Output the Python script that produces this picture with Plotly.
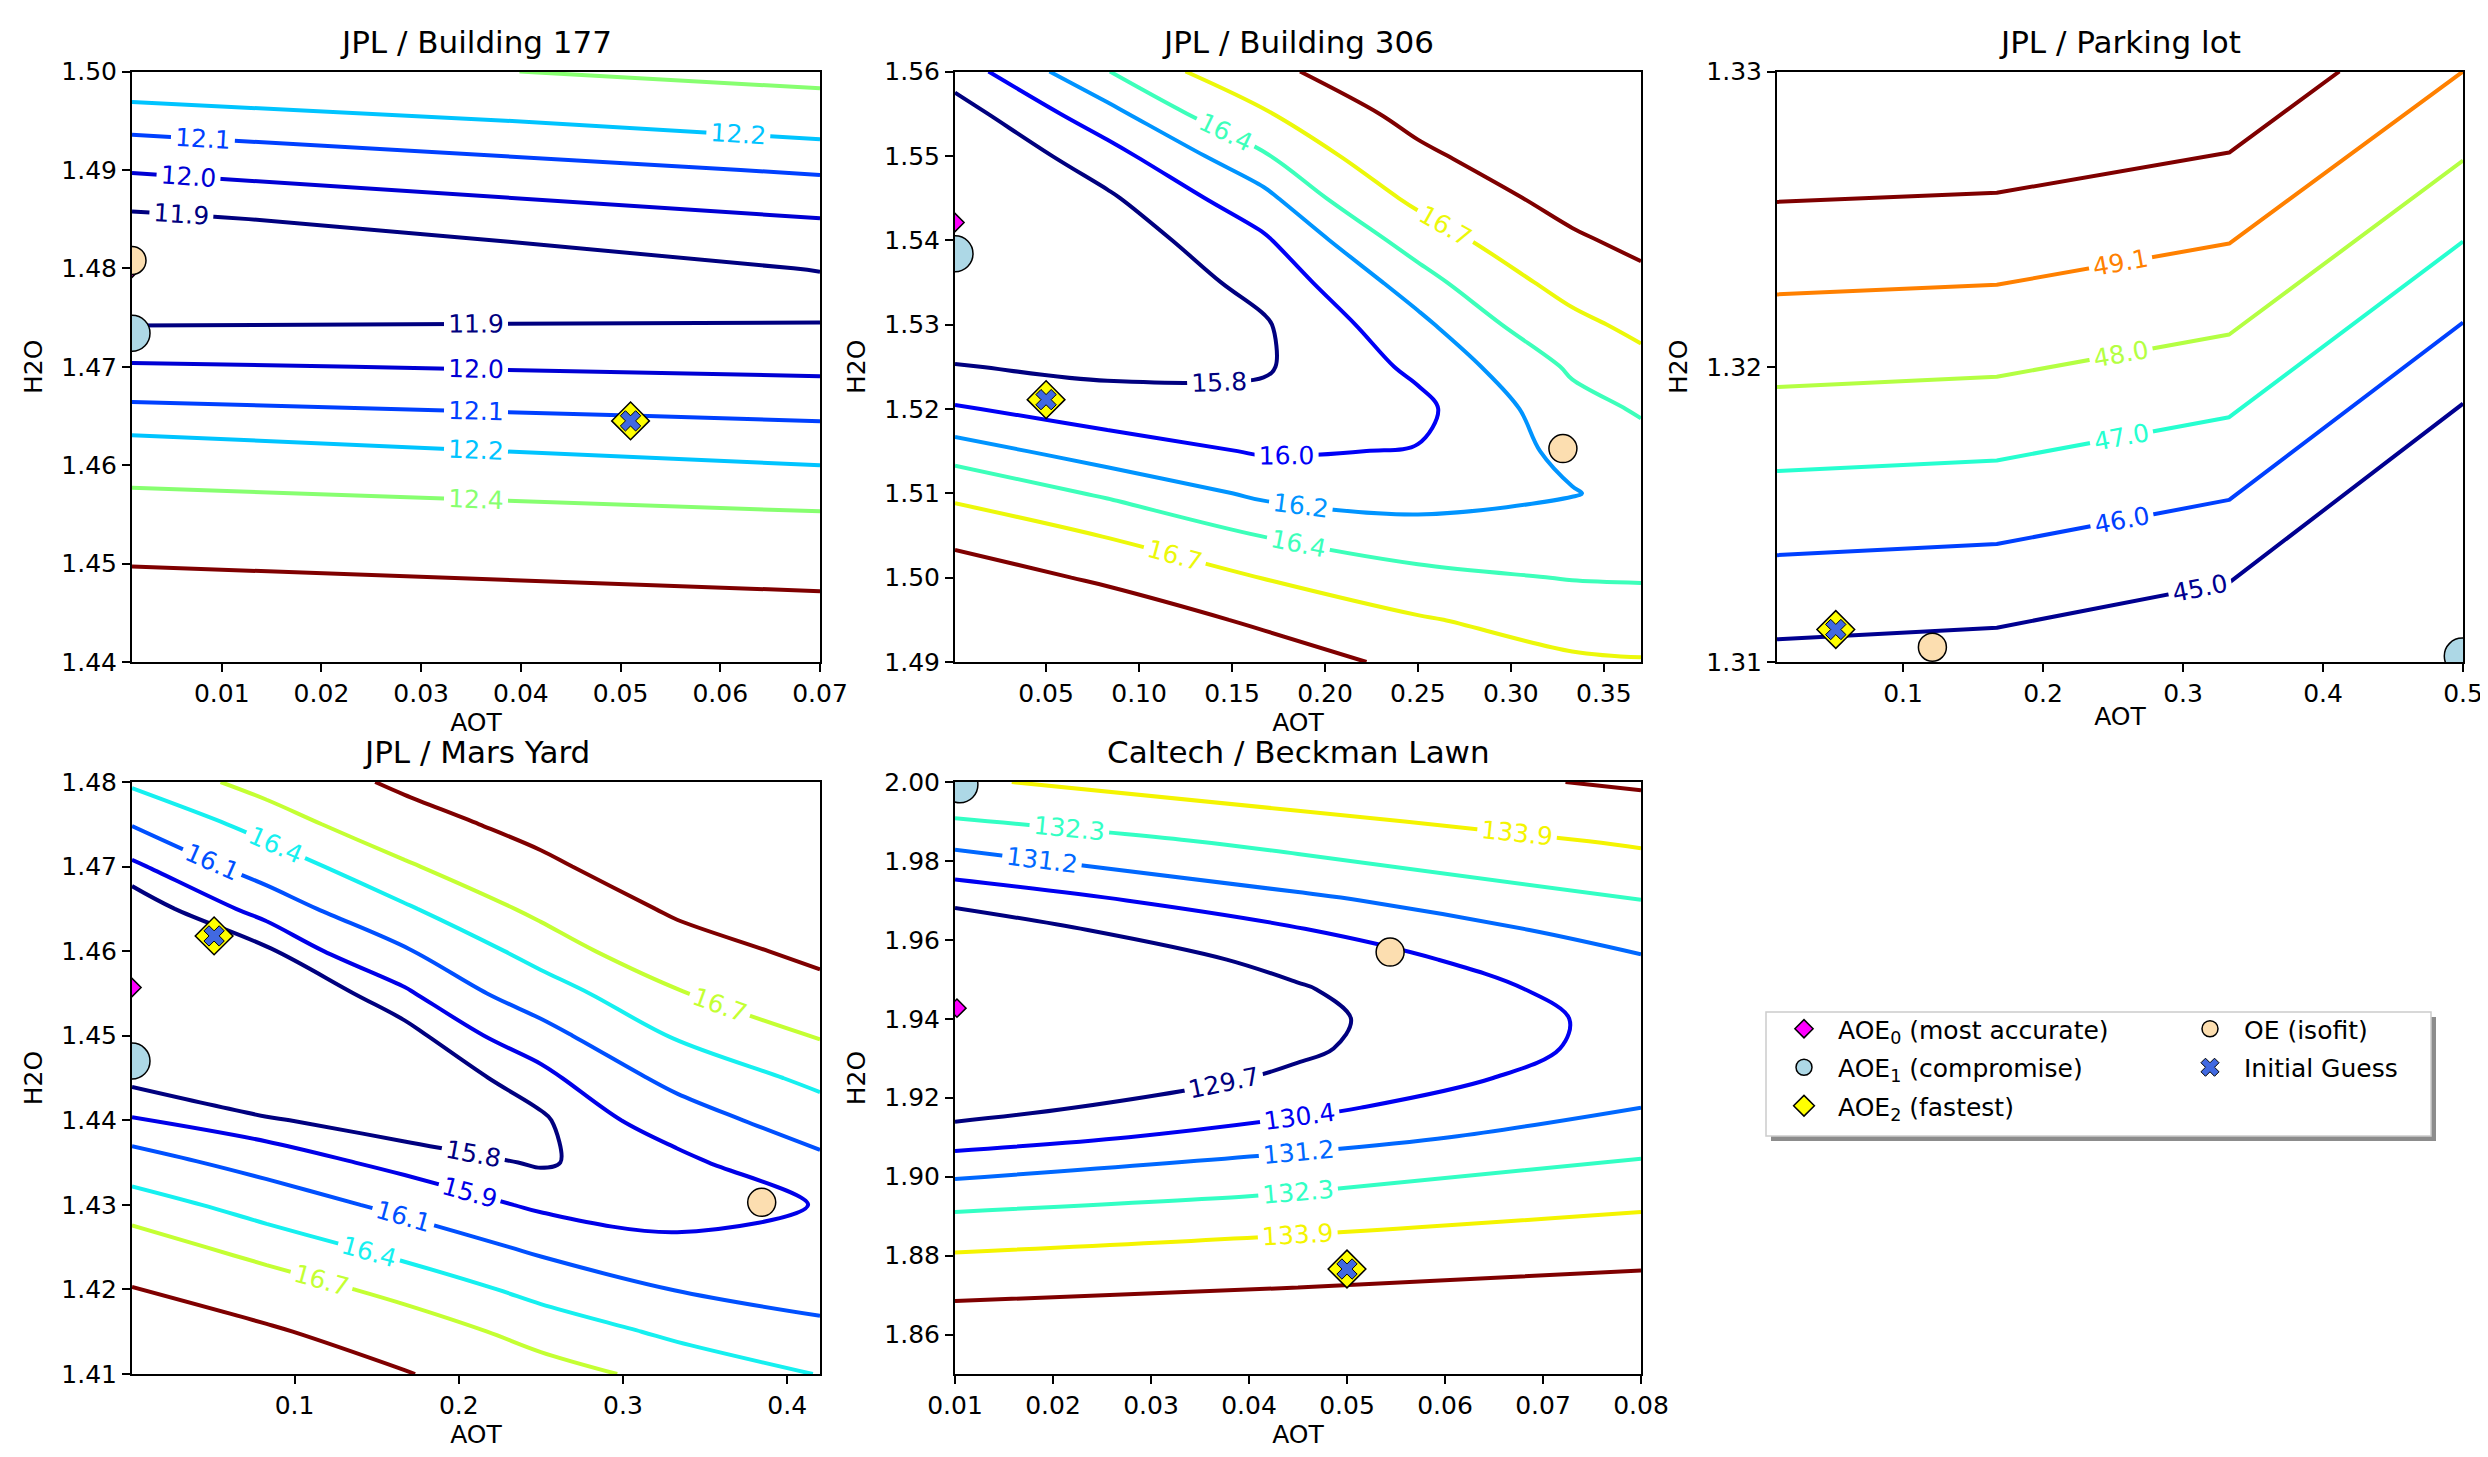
import plotly.graph_objects as go

FONT = "DejaVu Sans"

# panel titles
titles = ["JPL / Building 177", "JPL / Building 306", "JPL / Parking lot",
          "JPL / Mars Yard", "Caltech / Beckman Lawn"]

# ---- JPL / Building 177 : cost surface (rows = H2O, cols = AOT)
b177_aot = [0.001, 0.07]
b177_h2o = [1.440, 1.445, 1.450, 1.455, 1.460, 1.465, 1.470, 1.475, 1.4775,
            1.480, 1.485, 1.490, 1.495, 1.500]
b177_cost = [
    [13.174, 13.061], [12.956, 12.845], [12.737, 12.629], [12.518, 12.413],
    [12.300, 12.200], [12.136, 12.088], [12.010, 11.979], [11.879, 11.891],
    [11.815, 11.862], [11.750, 11.906], [11.880, 11.998], [12.008, 12.112],
    [12.137, 12.253], [12.302, 12.476],
]
b177_levels = [11.9, 12.0, 12.1, 12.2, 12.4, 12.75]

# ---- JPL / Building 306
b306_aot = [0.001, 0.083, 0.167, 0.25, 0.333, 0.37]
b306_h2o = [1.490, 1.495, 1.500, 1.505, 1.510, 1.515, 1.520, 1.525, 1.530,
            1.535, 1.540, 1.545, 1.550, 1.555, 1.560]
b306_cost = [
    [18.46, 17.98, 17.44, 16.99, 16.75, 16.72],
    [17.91, 17.49, 17.04, 16.73, 16.55, 16.54],
    [17.43, 17.05, 16.69, 16.46, 16.39, 16.38],
    [16.99, 16.68, 16.39, 16.27, 16.31, 16.31],
    [16.61, 16.36, 16.16, 16.13, 16.19, 16.26],
    [16.29, 16.10, 15.98, 16.01, 16.25, 16.33],
    [16.02, 15.90, 15.86, 15.95, 16.33, 16.42],
    [15.81, 15.75, 15.78, 16.04, 16.43, 16.59],
    [15.66, 15.67, 15.78, 16.15, 16.61, 16.79],
    [15.56, 15.64, 15.86, 16.30, 16.83, 17.02],
    [15.51, 15.68, 15.97, 16.51, 17.07, 17.26],
    [15.52, 15.77, 16.14, 16.78, 17.31, 17.49],
    [15.59, 15.92, 16.37, 17.04, 17.56, 17.73],
    [15.71, 16.13, 16.66, 17.30, 17.80, 17.96],
    [15.89, 16.39, 17.01, 17.56, 18.05, 18.20],
]
b306_levels = [15.8, 16.0, 16.2, 16.4, 16.7, 17.14]

# ---- JPL / Parking lot
park_aot = [0.01, 0.167, 0.333, 0.5]
park_h2o = [1.31, 1.33]
park_cost = [
    [44.73, 44.59, 44.04, 41.81],
    [51.75, 51.65, 51.18, 49.10],
]
park_levels = [45.0, 46.0, 47.0, 48.0, 49.1, 50.2]

# ---- JPL / Mars Yard
mars_aot = [0.001, 0.083, 0.167, 0.25, 0.333, 0.42]
mars_h2o = [1.410, 1.415, 1.420, 1.425, 1.430, 1.435, 1.440, 1.445, 1.450,
            1.455, 1.460, 1.465, 1.470, 1.475, 1.480]
mars_cost = [
    [17.92, 17.64, 17.23, 16.84, 16.59, 16.39],
    [17.57, 17.27, 16.90, 16.57, 16.34, 16.16],
    [17.22, 16.89, 16.59, 16.31, 16.09, 16.00],
    [16.87, 16.56, 16.30, 16.04, 15.93, 15.915],
    [16.54, 16.27, 16.02, 15.87, 15.845, 15.905],
    [16.22, 15.99, 15.85, 15.79, 15.86, 16.04],
    [15.91, 15.81, 15.75, 15.785, 15.98, 16.24],
    [15.77, 15.69, 15.72, 15.85, 16.17, 16.48],
    [15.67, 15.65, 15.76, 16.00, 16.43, 16.72],
    [15.63, 15.68, 15.87, 16.25, 16.67, 17.03],
    [15.65, 15.78, 16.07, 16.52, 16.97, 17.33],
    [15.73, 15.95, 16.36, 16.78, 17.28, 17.63],
    [15.86, 16.22, 16.65, 17.08, 17.60, 17.93],
    [16.11, 16.52, 16.97, 17.39, 17.91, 18.23],
    [16.45, 16.83, 17.30, 17.69, 18.23, 18.53],
]
mars_levels = [15.8, 15.9, 16.1, 16.4, 16.7, 17.2]

# ---- Caltech / Beckman Lawn
beck_aot = [0.01, 0.045, 0.08]
beck_h2o = [1.85, 1.865, 1.88, 1.895, 1.91, 1.9175, 1.925, 1.9325, 1.94,
            1.9475, 1.955, 1.9625, 1.97, 1.985, 2.00]
beck_cost = [
    [140.63, 141.29, 142.13], [136.99, 137.66, 138.50], [134.02, 134.70, 135.56],
    [131.69, 132.41, 133.30], [130.01, 130.78, 131.73], [129.42, 130.22, 131.20],
    [128.99, 129.82, 130.84], [128.73, 129.59, 130.65], [128.62, 129.53, 130.63],
    [128.68, 129.64, 130.79], [128.90, 129.91, 131.11], [129.29, 130.35, 131.61],
    [129.84, 130.96, 132.28], [131.43, 132.67, 134.12], [133.67, 135.06, 136.65],
]
beck_levels = [129.7, 130.4, 131.2, 132.3, 133.9, 136.3]

# ---- retrieved solutions, one entry per panel (same order as titles)
aoe0_aot = [0.001, 0.001, 0.499, 0.001, 0.0102]
aoe0_h2o = [1.4800, 1.5421, 1.3101, 1.4557, 1.9427]
aoe1_aot = [0.001, 0.001, 0.4995, 0.001, 0.0105]
aoe1_h2o = [1.4734, 1.5384, 1.3102, 1.4470, 1.9993]
aoe2_aot = [0.051, 0.050, 0.052, 0.051, 0.050]
aoe2_h2o = [1.4645, 1.5211, 1.3111, 1.4618, 1.8766]
oe_aot = [0.001, 0.328, 0.121, 0.3845, 0.0544]
oe_h2o = [1.4808, 1.5153, 1.3105, 1.4303, 1.9569]
init_aot = [0.051, 0.050, 0.052, 0.051, 0.050]
init_h2o = [1.4645, 1.5211, 1.3111, 1.4618, 1.8766]

# tick values
b177_xticks = [0.01, 0.02, 0.03, 0.04, 0.05, 0.06, 0.07]
b177_yticks = [1.44, 1.45, 1.46, 1.47, 1.48, 1.49, 1.50]
b306_xticks = [0.05, 0.10, 0.15, 0.20, 0.25, 0.30, 0.35]
b306_yticks = [1.49, 1.50, 1.51, 1.52, 1.53, 1.54, 1.55, 1.56]
park_xticks = [0.1, 0.2, 0.3, 0.4, 0.5]
park_yticks = [1.31, 1.32, 1.33]
mars_xticks = [0.1, 0.2, 0.3, 0.4]
mars_yticks = [1.41, 1.42, 1.43, 1.44, 1.45, 1.46, 1.47, 1.48]
beck_xticks = [0.01, 0.02, 0.03, 0.04, 0.05, 0.06, 0.07, 0.08]
beck_yticks = [1.86, 1.88, 1.90, 1.92, 1.94, 1.96, 1.98, 2.00]

# jet-like line colours for each panel's levels (low -> high)
DR = "#7f0000"
b177_colors = ["#00007f", "#0000d4", "#0040ff", "#00c4ff", "#87ff70", DR]
b306_colors = ["#00007f", "#0000f6", "#0094ff", "#3dffba", "#ecf80a", DR]
park_colors = ["#000090", "#0040ff", "#26ffd0", "#b4ff43", "#ff8000", DR]
mars_colors = ["#00007f", "#0000e8", "#0050ff", "#16f0f0", "#c4ff33", DR]
beck_colors = ["#00007f", "#0000f1", "#0068ff", "#33ffc4", "#f4f400", DR]

panels = [
    dict(aot=b177_aot, h2o=b177_h2o, cost=b177_cost, levels=b177_levels, colors=b177_colors,
         xr=[0.001, 0.07], yr=[1.44, 1.50], xt=b177_xticks, yt=b177_yticks, xf=".2f", yf=".2f", sm=1.0),
    dict(aot=b306_aot, h2o=b306_h2o, cost=b306_cost, levels=b306_levels, colors=b306_colors,
         xr=[0.001, 0.37], yr=[1.49, 1.56], xt=b306_xticks, yt=b306_yticks, xf=".2f", yf=".2f", sm=1.0),
    dict(aot=park_aot, h2o=park_h2o, cost=park_cost, levels=park_levels, colors=park_colors,
         xr=[0.01, 0.5], yr=[1.31, 1.33], xt=park_xticks, yt=park_yticks, xf=".1f", yf=".2f", sm=0),
    dict(aot=mars_aot, h2o=mars_h2o, cost=mars_cost, levels=mars_levels, colors=mars_colors,
         xr=[0.001, 0.42], yr=[1.41, 1.48], xt=mars_xticks, yt=mars_yticks, xf=".1f", yf=".2f", sm=1.0),
    dict(aot=beck_aot, h2o=beck_h2o, cost=beck_cost, levels=beck_levels, colors=beck_colors,
         xr=[0.01, 0.08], yr=[1.85, 2.00], xt=beck_xticks, yt=beck_yticks, xf=".2f", yf=".2f", sm=1.0),
]

# subplot boxes in pixels of the 2488x1457 page
W, H = 2488, 1457
col_x = [(124, 812), (947, 1633), (1769, 2455)]
row_y = [(63.5, 654), (774, 1366)]
domains = [(col_x[0], row_y[0]), (col_x[1], row_y[0]), (col_x[2], row_y[0]),
           (col_x[0], row_y[1]), (col_x[1], row_y[1])]

markers = [
    ("AOE<sub>0</sub> (most accurate)", aoe0_aot, aoe0_h2o,
     dict(symbol="diamond", size=14, color="#ff00ff", line=dict(color="black", width=1.5)), "legend"),
    ("AOE<sub>1</sub> (compromise)", aoe1_aot, aoe1_h2o,
     dict(symbol="circle", size=36, color="#add8e6", line=dict(color="black", width=1.5)), "legend"),
    ("AOE<sub>2</sub> (fastest)", aoe2_aot, aoe2_h2o,
     dict(symbol="diamond", size=29, color="#ffff00", line=dict(color="black", width=1.5)), "legend"),
    ("OE (isofit)", oe_aot, oe_h2o,
     dict(symbol="circle", size=28, color="#fcdeb0", line=dict(color="black", width=1.5)), "legend2"),
    ("Initial Guess", init_aot, init_h2o,
     dict(symbol="x", size=18, color="#4169e1", line=dict(color="black", width=1)), "legend2"),
]

fig = go.Figure()
axis_style = dict(showline=True, linecolor="black", linewidth=2, mirror=True,
                  ticks="outside", ticklen=8, tickwidth=2, tickcolor="black",
                  showgrid=False, zeroline=False,
                  tickfont=dict(family=FONT, size=25, color="black"))
layout_axes = {}
annotations = []

for i, p in enumerate(panels):
    n = "" if i == 0 else str(i + 1)
    xa, ya = "x" + n, "y" + n
    nlev = len(p["levels"])
    for k, (lev, col) in enumerate(zip(p["levels"], p["colors"])):
        fig.add_trace(go.Contour(
            x=p["aot"], y=p["h2o"], z=p["cost"], xaxis=xa, yaxis=ya,
            autocontour=False,
            contours=dict(start=lev, end=lev, size=1, coloring="lines",
                          showlabels=k < nlev - 1, labelformat=".1f",
                          labelfont=dict(family=FONT, size=25, color=col)),
            colorscale=[[0, col], [1, col]], showscale=False,
            line=dict(width=4, smoothing=p["sm"]),
            hoverinfo="skip", showlegend=False))
    for name, mx, my, mk, lg in markers:
        fig.add_trace(go.Scatter(
            x=[mx[i]], y=[my[i]], mode="markers", marker=mk, name=name,
            xaxis=xa, yaxis=ya, legend=lg, legendgroup=name,
            showlegend=(i == 0)))

    (x0, x1), (y0, y1) = domains[i]
    layout_axes["xaxis" + n] = dict(
        domain=[x0 / W, x1 / W], anchor=ya, range=p["xr"], tickvals=p["xt"],
        tickformat=p["xf"],
        title=dict(text="AOT", font=dict(family=FONT, size=25, color="black"), standoff=0),
        **axis_style)
    layout_axes["yaxis" + n] = dict(
        domain=[1 - y1 / H, 1 - y0 / H], anchor=xa, range=p["yr"], tickvals=p["yt"],
        tickformat=p["yf"],
        title=dict(text="H2O", font=dict(family=FONT, size=25, color="black"), standoff=12),
        **axis_style)
    annotations.append(dict(
        text=titles[i], xref="paper", yref="paper", x=(x0 + x1) / 2 / W, y=1 - y0 / H,
        xanchor="center", yanchor="bottom", yshift=10, showarrow=False,
        font=dict(family=FONT, size=31, color="black")))

# legend frame with drop shadow
bx0, bx1, by0, by1 = 1758, 2423, 1004, 1128
shapes = [
    dict(type="rect", xref="paper", yref="paper", layer="below",
         x0=(bx0 + 5) / W, x1=(bx1 + 5) / W, y0=1 - (by1 + 5) / H, y1=1 - (by0 + 5) / H,
         fillcolor="#8c8c8c", line=dict(width=0)),
    dict(type="rect", xref="paper", yref="paper", layer="below",
         x0=bx0 / W, x1=bx1 / W, y0=1 - by1 / H, y1=1 - by0 / H,
         fillcolor="white", line=dict(color="#cccccc", width=1.5)),
]

legend_style = dict(yanchor="top", xanchor="left", bgcolor="rgba(0,0,0,0)", borderwidth=0,
                    font=dict(family=FONT, size=25, color="black"), tracegroupgap=3,
                    itemwidth=58)

fig.update_layout(
    width=W, height=H, template="none",
    margin=dict(l=0, r=0, t=0, b=0),
    paper_bgcolor="white", plot_bgcolor="white",
    font=dict(family=FONT, size=25, color="black"),
    annotations=annotations, shapes=shapes,
    legend=dict(x=1762 / W, y=1 - 998 / H, **legend_style),
    legend2=dict(x=2168 / W, y=1 - 998 / H, **legend_style),
    **layout_axes,
)

fig.write_html("out.html")
